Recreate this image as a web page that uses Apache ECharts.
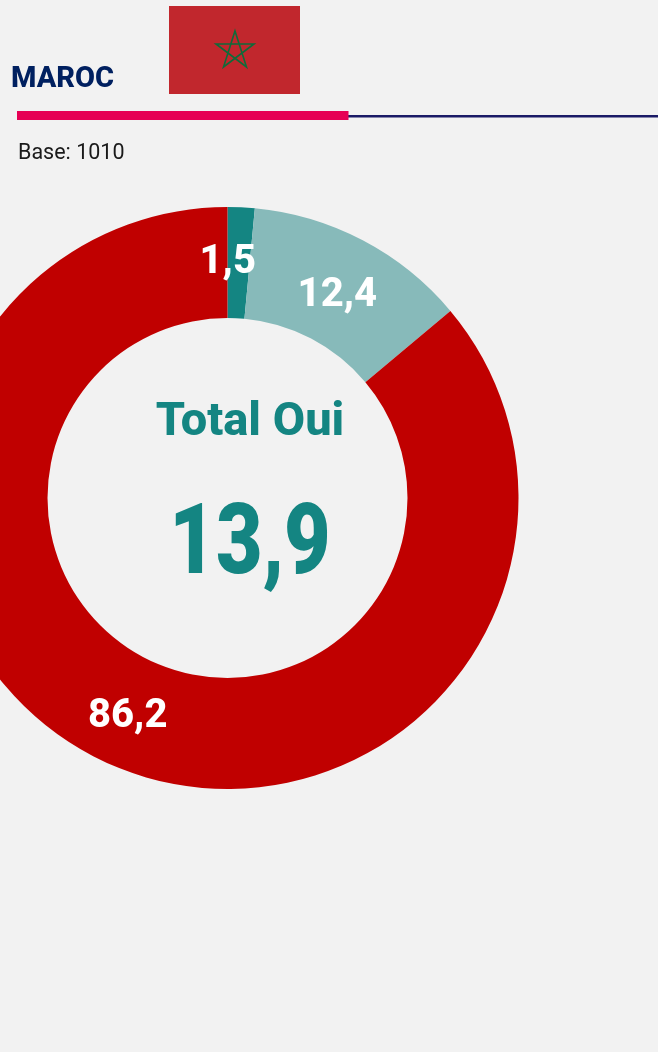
<!DOCTYPE html>
<html>
<head>
<meta charset="utf-8">
<style>
  html,body{margin:0;padding:0;background:#f2f2f2;}
  #main{width:658px;height:1052px;}
</style>
<script src="https://cdn.jsdelivr.net/npm/echarts@6/dist/echarts.min.js"></script>
</head>
<body>
<div id="main"></div>
<script>
var labels = ["Oui, souvent", "Oui, parfois", "Non"];
var values = [1.5, 12.4, 86.2];
var colors = ["#148582", "#87baba", "#c00000"];
var valueText = ["1,5", "12,4", "86,2"];
var labelShift = [[-11, 3], [-1, 9], [1, 3]];
var titleText = "MAROC";
var baseText = "Base: 1010";
var centerTitle = "Total Oui";
var centerValue = "13,9";

var font = "Roboto, sans-serif";
var myChart = echarts.init(document.getElementById("main"));

var pieData = values.map(function(v,i){
  return {
    name: labels[i],
    value: v,
    itemStyle: {color: colors[i]},
    label: {formatter: valueText[i], offset: labelShift[i]}
  };
});

myChart.setOption({
  backgroundColor: "#f2f2f2",
  animation: false,
  series: [{
    type: "pie",
    center: [227.5, 498],
    radius: [180, 291],
    startAngle: 90,
    clockwise: true,
    data: pieData,
    label: {
      show: true,
      position: "inside",
      color: "#fff",
      fontFamily: font,
      fontWeight: 800,
      fontSize: 40
    },
    labelLine: {show: false}
  }],
  graphic: [
    // flag
    {type:"rect", shape:{x:169,y:6,width:131,height:88}, style:{fill:"#c1272d"}},
    {type:"polygon", shape:{points:[[235,31],[246.5,67],[216,44],[254,44],[223.5,67]]},
      style:{fill:"none",stroke:"#0f6b3a",lineWidth:1.6}},
    // title and rules
    {type:"text", x:11, y:65, style:{text:titleText,fill:"#002060",font:"800 29px "+font}},
    {type:"rect", shape:{x:348,y:115,width:310,height:2.5}, style:{fill:"#1a1a66"}},
    {type:"rect", shape:{x:17,y:111,width:331.5,height:9}, style:{fill:"#e60054"}},
    {type:"text", x:18, y:143, style:{text:baseText,fill:"#1a1a1a",font:"400 21.5px "+font}},
    // centre text
    {type:"text", x:250, y:423, style:{text:centerTitle,fill:"#148582",font:"800 47px "+font,align:"center",verticalAlign:"middle"}},
    {type:"text", x:250, y:548, scaleX:0.82, originX:0, style:{text:centerValue,fill:"#148582",font:"900 98px "+font,align:"center",verticalAlign:"middle"}}
  ]
});
</script>
</body>
</html>
